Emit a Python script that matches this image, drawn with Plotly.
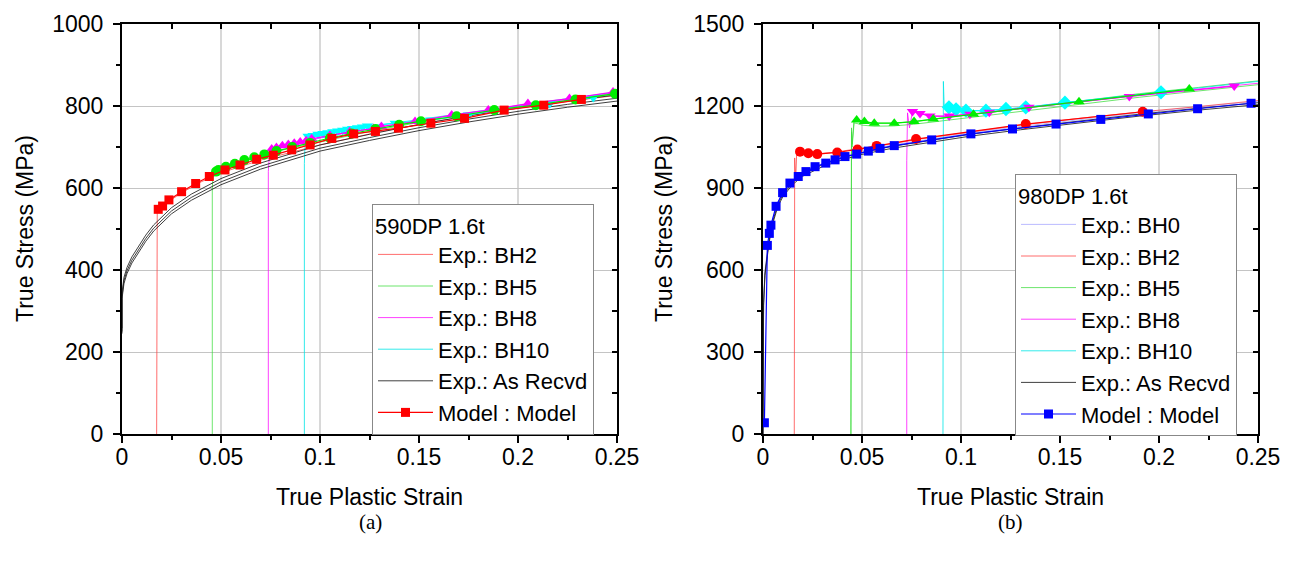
import plotly.graph_objects as go

# ---------------- (a) 590DP 1.6t ----------------
a_asr_x = [0, 0, 0.001, 0.0025, 0.005, 0.008, 0.012, 0.016, 0.025, 0.035, 0.05, 0.07, 0.1, 0.125, 0.15, 0.175, 0.2, 0.225, 0.25]
a_asr1_y = [258, 344, 382, 406, 432, 455, 485, 510, 552, 585, 623, 661, 705, 731, 755, 776, 795, 812, 827]
a_asr2_y = [250, 336, 374, 398, 424, 447, 477, 502, 544, 577, 615, 653, 697, 723, 747, 768, 787, 804, 819]
a_asr3_y = [245, 330, 367, 391, 417, 440, 470, 495, 537, 570, 608, 646, 690, 716, 740, 761, 780, 797, 812]

a_bh2_x = [0.0175, 0.0175, 0.0178, 0.019, 0.022, 0.03, 0.04, 0.05, 0.07, 0.1, 0.13, 0.16, 0.19, 0.22, 0.25]
a_bh2_y = [0, 520, 545, 552, 562, 588, 615, 637, 668, 705, 737, 764, 788, 808, 826]
a_m2_x = [0.0183, 0.0205, 0.0237, 0.0301, 0.0372, 0.0441, 0.052, 0.0596, 0.068, 0.0764, 0.0857, 0.095, 0.106, 0.117, 0.128, 0.1396, 0.156, 0.173, 0.193, 0.213, 0.232]
a_m2_y = [548, 556, 571, 591, 611, 628, 644, 656, 670, 680, 693, 705, 721, 732, 738, 746, 758, 770, 790, 802, 816]

a_bh5_x = [0.0456, 0.0456, 0.046, 0.047, 0.05, 0.06, 0.07, 0.085, 0.1, 0.125, 0.15, 0.175, 0.2, 0.225, 0.25]
a_bh5_y = [0, 600, 632, 640, 646, 664, 680, 697, 712, 738, 760, 780, 798, 814, 829]
a_m5_x = [0.0475, 0.0487, 0.0525, 0.057, 0.0618, 0.0668, 0.0719, 0.078, 0.086, 0.095, 0.105, 0.116, 0.128, 0.14, 0.151, 0.169, 0.188, 0.209, 0.229, 0.249]
a_m5_y = [640, 644, 652, 659, 668, 675, 682, 690, 700, 710, 722, 733, 744, 754, 763, 775, 790, 802, 816, 830]

a_bh8_x = [0.0739, 0.0739, 0.0745, 0.076, 0.08, 0.09, 0.1, 0.125, 0.15, 0.175, 0.2, 0.225, 0.25]
a_bh8_y = [0, 640, 685, 693, 698, 710, 722, 745, 764, 783, 800, 816, 832]
a_m8_x = [0.0756, 0.078, 0.081, 0.084, 0.087, 0.09, 0.093, 0.0958, 0.105, 0.115, 0.127, 0.131, 0.148, 0.1665, 0.185, 0.205, 0.226, 0.248]
a_m8_y = [695, 699, 703, 706, 709, 712, 715, 720, 728, 737, 745, 750, 762, 778, 790, 806, 818, 834]

a_bh10_x = [0.0921, 0.0921, 0.0925, 0.094, 0.1, 0.11, 0.125, 0.15, 0.175, 0.2, 0.225, 0.25]
a_bh10_y = [0, 660, 712, 722, 728, 738, 750, 767, 785, 802, 818, 834]
a_m10_x = [0.094, 0.0965, 0.099, 0.1015, 0.104, 0.1065, 0.109, 0.1115, 0.114, 0.1165, 0.119, 0.1215, 0.124, 0.138, 0.156, 0.175, 0.194, 0.216, 0.238]
a_m10_y = [726, 728, 731, 733, 735, 737, 739, 741, 743, 745, 747, 749, 751, 758, 766, 778, 792, 806, 821]

# ---------------- (b) 980DP 1.6t ----------------
b_exp_x = [0, 0.0003, 0.001, 0.002, 0.003, 0.005, 0.0075, 0.01, 0.015, 0.02, 0.03, 0.04, 0.05, 0.065, 0.085, 0.105, 0.13, 0.16, 0.19, 0.22, 0.25]
b_asr_y = [0, 480, 590, 660, 705, 780, 840, 875, 920, 950, 985, 1010, 1030, 1052, 1075, 1097, 1120, 1145, 1170, 1192, 1212]
b_asr2_y = [0, 470, 580, 650, 697, 772, 832, 868, 913, 943, 978, 1003, 1023, 1045, 1068, 1090, 1113, 1138, 1163, 1185, 1205]
b_bh0_y = [0, 490, 600, 668, 712, 788, 846, 881, 926, 955, 990, 1015, 1035, 1057, 1080, 1102, 1125, 1150, 1175, 1197, 1217]
b_m0_x = [0.0007, 0.0022, 0.0032, 0.004, 0.0066, 0.0099, 0.0136, 0.0178, 0.0217, 0.0263, 0.0317, 0.0364, 0.0414, 0.0473, 0.0532, 0.0591, 0.0663, 0.0852, 0.105, 0.126, 0.148, 0.1706, 0.1946, 0.2195, 0.2465]
b_m0_y = [41, 690, 734, 764, 833, 883, 918, 942, 960, 978, 991, 1003, 1015, 1024, 1035, 1045, 1055, 1076, 1098, 1116, 1134, 1151, 1171, 1190, 1210]

b_bh2_x = [0.0158, 0.0158, 0.016, 0.0165, 0.017, 0.0175, 0.019, 0.022, 0.027, 0.035, 0.045, 0.06, 0.08, 0.1, 0.13, 0.16, 0.19, 0.22, 0.25]
b_bh2_y = [0, 880, 1010, 930, 1025, 1030, 1033, 1028, 1025, 1030, 1040, 1056, 1080, 1100, 1130, 1155, 1178, 1198, 1220]
b_m2_x = [0.0187, 0.0229, 0.0274, 0.0375, 0.0477, 0.0574, 0.0773, 0.1327, 0.1918]
b_m2_y = [1033, 1027, 1024, 1030, 1041, 1054, 1079, 1134, 1179]

b_bh5_x = [0.0444, 0.0444, 0.0447, 0.045, 0.046, 0.0475, 0.05, 0.056, 0.066, 0.076, 0.086, 0.1063, 0.13, 0.16, 0.19, 0.22, 0.25]
b_bh5_y = [0, 900, 1120, 1060, 1150, 1148, 1142, 1137, 1137, 1143, 1152, 1170, 1192, 1218, 1245, 1268, 1292]
b_bh5b_y = [0, 880, 1105, 1050, 1138, 1136, 1130, 1126, 1127, 1133, 1142, 1160, 1181, 1206, 1232, 1255, 1278]
b_m5_x = [0.0473, 0.0512, 0.0562, 0.0663, 0.0763, 0.086, 0.1063, 0.1596, 0.2153]
b_m5_y = [1149, 1143, 1137, 1137, 1143, 1152, 1170, 1216, 1262]

b_bh8_x = [0.0726, 0.0726, 0.073, 0.074, 0.0755, 0.08, 0.085, 0.094, 0.105, 0.115, 0.135, 0.16, 0.185, 0.21, 0.25]
b_bh8_y = [0, 1000, 1175, 1120, 1180, 1172, 1163, 1162, 1170, 1177, 1195, 1215, 1235, 1255, 1283]
b_m8_x = [0.0755, 0.0793, 0.0843, 0.094, 0.1045, 0.1143, 0.1343, 0.185, 0.238]
b_m8_y = [1180, 1173, 1163, 1163, 1170, 1177, 1195, 1235, 1273]

b_bh10_x = [0.0909, 0.0909, 0.0911, 0.0915, 0.093, 0.0975, 0.1025, 0.1126, 0.1227, 0.1327, 0.1525, 0.175, 0.201, 0.225, 0.25]
b_bh10_y = [0, 1000, 1290, 1200, 1195, 1188, 1183, 1183, 1189, 1195, 1212, 1230, 1250, 1270, 1290]
b_m10_x = [0.0939, 0.0975, 0.1025, 0.1126, 0.1227, 0.1327, 0.1525, 0.201]
b_m10_y = [1195, 1188, 1183, 1183, 1189, 1195, 1212, 1250]

a_xticks = [0, 0.05, 0.1, 0.15, 0.2, 0.25]
a_xlabels = ["0", "0.05", "0.1", "0.15", "0.2", "0.25"]
a_yticks = [0, 200, 400, 600, 800, 1000]
b_yticks = [0, 300, 600, 900, 1200, 1500]

RED_L = "rgba(255,60,60,0.75)"
GRN_L = "rgba(60,220,60,0.75)"
MAG_L = "rgba(255,0,255,0.75)"
CYN_L = "rgba(0,230,230,0.8)"
GRY_L = "rgba(30,30,30,0.85)"
BH0_L = "rgba(170,170,255,0.8)"

FONT = "Liberation Sans, Arial, sans-serif"
FS = 23
LFS = 22
fig = go.Figure()


def line(x, y, color, name=None, legend="legend", xa="x", ya="y", width=1.0):
    fig.add_trace(go.Scatter(x=x, y=y, mode="lines", line=dict(color=color, width=width),
                             name=name, showlegend=name is not None, legend=legend,
                             xaxis=xa, yaxis=ya, hoverinfo="skip"))


def model(x, y, color, symbol, size, name=None, legend="legend", xa="x", ya="y"):
    fig.add_trace(go.Scatter(x=x, y=y, mode="lines+markers", line=dict(color=color, width=1.2),
                             marker=dict(color=color, symbol=symbol, size=size, line=dict(width=0)),
                             name=name, showlegend=name is not None, legend=legend,
                             xaxis=xa, yaxis=ya, hoverinfo="skip"))

# panel (a)
line(a_bh2_x, a_bh2_y, RED_L, "Exp.: BH2")
line(a_bh5_x, a_bh5_y, GRN_L, "Exp.: BH5")
line(a_bh8_x, a_bh8_y, MAG_L, "Exp.: BH8")
line(a_bh10_x, a_bh10_y, CYN_L, "Exp.: BH10")
line(a_asr_x, a_asr1_y, GRY_L, "Exp.: As Recvd")
line(a_asr_x, a_asr2_y, GRY_L)
line(a_asr_x, a_asr3_y, GRY_L)
model(a_m10_x, a_m10_y, "#00ffff", "triangle-down", 10)
model(a_m8_x, a_m8_y, "#ff00ff", "triangle-up", 10)
model(a_m5_x, a_m5_y, "#00ee00", "circle", 10)
model(a_m2_x, a_m2_y, "#ff0000", "square", 9, "Model : Model")

# panel (b)
L2 = "legend2"
line(b_exp_x, b_bh0_y, BH0_L, "Exp.: BH0", L2, "x2", "y2")
line(b_bh2_x, b_bh2_y, RED_L, "Exp.: BH2", L2, "x2", "y2")
line(b_bh5_x, b_bh5_y, GRN_L, "Exp.: BH5", L2, "x2", "y2")
line(b_bh5_x, b_bh5b_y, GRN_L, None, L2, "x2", "y2")
line(b_bh8_x, b_bh8_y, MAG_L, "Exp.: BH8", L2, "x2", "y2")
line(b_bh10_x, b_bh10_y, CYN_L, "Exp.: BH10", L2, "x2", "y2")
line(b_exp_x, b_asr_y, GRY_L, "Exp.: As Recvd", L2, "x2", "y2")
line(b_exp_x, b_asr2_y, GRY_L, None, L2, "x2", "y2")
model(b_m10_x, b_m10_y, "#00ffff", "diamond", 11, None, L2, "x2", "y2")
model(b_m8_x, b_m8_y, "#ff00ff", "triangle-down", 10, None, L2, "x2", "y2")
model(b_m5_x, b_m5_y, "#00ee00", "triangle-up", 10, None, L2, "x2", "y2")
model(b_m2_x, b_m2_y, "#ff0000", "circle", 10, None, L2, "x2", "y2")
model(b_m0_x, b_m0_y, "#0000ff", "square", 9, "Model : Model", L2, "x2", "y2")

# dummy traces for mirrored inner-tick axes
for xa, ya in [("x3", "y"), ("x", "y3"), ("x4", "y2"), ("x2", "y4")]:
    fig.add_trace(go.Scatter(x=[], y=[], xaxis=xa, yaxis=ya, showlegend=False, hoverinfo="skip"))

YDOM = [1 - 434 / 564, 1 - 24 / 564]
XDOM_A = [122 / 1294, 617 / 1294]
XDOM_B = [763 / 1294, 1258 / 1294]
tickfont = dict(family=FONT, size=FS, color="black")
x_minor = [0.025, 0.075, 0.125, 0.175, 0.225]


def xmain(dom, anchor):
    return dict(domain=dom, anchor=anchor, range=[0, 0.25], tickvals=a_xticks, ticktext=a_xlabels,
                ticks="outside", ticklen=7, tickwidth=1.5, tickcolor="black",
                showline=True, linecolor="black", linewidth=2, automargin=False,
                showgrid=True, gridcolor="#d8d8d8", gridwidth=1.5,
                zeroline=False, tickfont=tickfont, ticklabelstandoff=-6,
                minor=dict(tickvals=x_minor, ticks="outside",
                           ticklen=4, tickwidth=1.5, tickcolor="black", showgrid=False))


def ymain(dom, anchor, rng, tv, minor):
    return dict(domain=dom, anchor=anchor, range=rng, tickvals=tv,
                ticks="outside", ticklen=7, tickwidth=1.5, tickcolor="black",
                showline=True, linecolor="black", linewidth=2, automargin=False,
                showgrid=True, gridcolor="#c4c4c4", gridwidth=1,
                zeroline=False, tickfont=tickfont, ticklabelstandoff=5,
                minor=dict(tickvals=minor, ticks="outside", ticklen=4, tickwidth=1.5,
                           tickcolor="black", showgrid=False))


def xtop(over, anchor):
    return dict(overlaying=over, anchor=anchor, side="top", range=[0, 0.25],
                tickvals=a_xticks, ticks="inside", ticklen=5, tickwidth=1.5, tickcolor="black",
                showticklabels=False, showline=True, linecolor="black", linewidth=1.5,
                showgrid=False, zeroline=False, automargin=False,
                minor=dict(tickvals=x_minor, ticks="inside",
                           ticklen=5, tickwidth=1.5, tickcolor="black", showgrid=False))


def yright(over, anchor, rng, tv, minor):
    return dict(overlaying=over, anchor=anchor, side="right", range=rng,
                tickvals=tv, ticks="inside", ticklen=5, tickwidth=1.5, tickcolor="black",
                showticklabels=False, showline=True, linecolor="black", linewidth=1.5,
                showgrid=False, zeroline=False, automargin=False,
                minor=dict(tickvals=minor, ticks="inside", ticklen=5, tickwidth=1.5,
                           tickcolor="black", showgrid=False))


a_minor = [100, 300, 500, 700, 900]
b_minor = [150, 450, 750, 1050, 1350]

legend_common = dict(bgcolor="white", bordercolor="#888888", borderwidth=1,
                     font=dict(family=FONT, size=LFS, color="black"),
                     xanchor="left", yanchor="top", tracegroupgap=0, itemwidth=55)

fig.update_layout(
    width=1294, height=564,
    margin=dict(l=0, r=0, t=0, b=0, autoexpand=False),
    paper_bgcolor="white", plot_bgcolor="white",
    font=dict(family=FONT, size=FS, color="black"),
    xaxis=xmain(XDOM_A, "y"),
    yaxis=ymain(YDOM, "x", [0, 1000], a_yticks, a_minor),
    xaxis2=xmain(XDOM_B, "y2"),
    yaxis2=ymain(YDOM, "x2", [0, 1500], b_yticks, b_minor),
    xaxis3=xtop("x", "y"),
    yaxis3=yright("y", "x", [0, 1000], a_yticks, a_minor),
    xaxis4=xtop("x2", "y2"),
    yaxis4=yright("y2", "x2", [0, 1500], b_yticks, b_minor),
    legend=dict(x=372 / 1294, y=1 - 204 / 564, title=dict(text="590DP 1.6t", font=dict(family=FONT, size=LFS)),
                **legend_common),
    legend2=dict(x=1015 / 1294, y=1 - 174 / 564, title=dict(text="980DP 1.6t", font=dict(family=FONT, size=LFS)),
                 **legend_common),
    showlegend=True,
)

ann = [
    dict(text="True Plastic Strain", x=369.5 / 1294, y=1 - 497 / 564),
    dict(text="True Plastic Strain", x=1010.5 / 1294, y=1 - 497 / 564),
    dict(text="True Stress (MPa)", x=25 / 1294, y=1 - 229 / 564, textangle=-90),
    dict(text="True Stress (MPa)", x=664 / 1294, y=1 - 229 / 564, textangle=-90),
]
for a in ann:
    fig.add_annotation(xref="paper", yref="paper", showarrow=False, xanchor="center", yanchor="middle",
                       font=dict(family=FONT, size=FS, color="black"), **a)
for t, xc in [("(a)", 370), ("(b)", 1010)]:
    fig.add_annotation(text=t, xref="paper", yref="paper", x=xc / 1294, y=1 - 522 / 564,
                       showarrow=False, xanchor="center", yanchor="middle",
                       font=dict(family="Liberation Serif, serif", size=21, color="black"))

fig.write_html("out.html")
